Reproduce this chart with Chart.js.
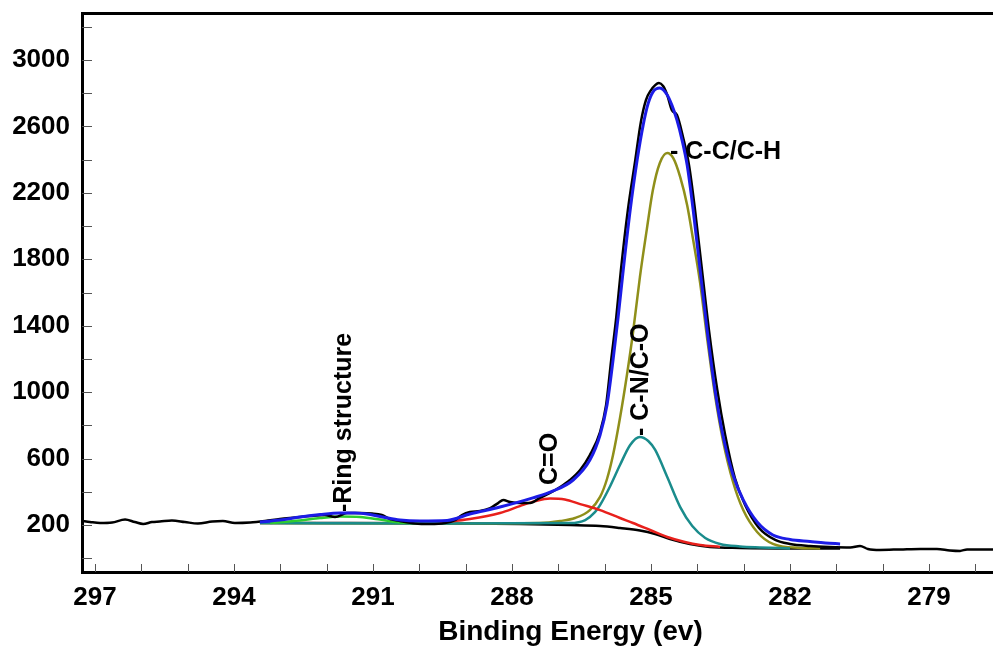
<!DOCTYPE html>
<html>
<head>
<meta charset="utf-8">
<script src="https://cdn.jsdelivr.net/npm/chart.js@4.4.1/dist/chart.umd.min.js"></script>
<style>
  html, body { margin: 0; padding: 0; background: #ffffff; }
  #wrap { width: 993px; height: 650px; position: relative; }
</style>
</head>
<body>
<div id="wrap"><canvas id="c"></canvas></div>
<script>
// ---- Data ----
// Raw spectrum (black, noisy)
const rawEnergy = [297.28,297.11,296.89,296.63,296.35,296.14,295.96,295.77,295.60,295.34,295.06,294.78,294.47,294.24,293.98,293.65,293.33,293.01,292.68,292.36,292.04,291.82,291.56,291.28,291.02,290.81,290.63,290.42,290.09,289.77,289.45,289.23,289.08,288.91,288.69,288.47,288.30,288.19,288.04,287.83,287.61,287.40,287.18,286.96,286.75,286.53,286.32,286.10,285.97,285.86,285.75,285.65,285.50,285.34,285.22,285.11,285.00,284.91,284.83,284.74,284.65,284.55,284.44,284.31,284.18,284.05,283.90,283.75,283.57,283.40,283.19,282.97,282.67,282.32,282.00,281.57,281.14,280.70,280.49,280.32,280.06,279.62,279.19,278.83,278.55,278.33,278.18,277.62];
const rawCounts = [224,218,212,215,233,218,206,218,221,227,218,209,221,224,212,215,224,236,245,254,260,248,272,272,269,260,236,224,209,206,212,230,260,278,284,302,332,351,338,332,332,363,393,429,471,531,621,760,922,1193,1452,1735,2096,2397,2626,2759,2819,2849,2861,2843,2789,2698,2668,2536,2367,2096,1735,1374,1013,742,483,320,182,110,86,74,68,65,74,56,50,53,56,56,47,44,53,53];

// Fitted envelope (blue)
const envEnergy = [293.44,293.01,292.58,292.14,291.71,291.39,291.06,290.74,290.42,289.99,289.40,288.91,288.26,287.55,287.11,286.68,286.32,286.10,285.95,285.82,285.71,285.60,285.45,285.30,285.17,285.06,284.96,284.81,284.65,284.55,284.44,284.33,284.22,284.09,283.94,283.79,283.62,283.45,283.23,283.01,282.71,282.37,282.00,281.57,281.24,280.92];
const envCounts = [218,230,248,263,272,272,263,245,230,224,227,266,308,363,405,471,591,742,922,1193,1452,1735,2096,2397,2608,2740,2807,2831,2789,2728,2638,2518,2367,2096,1735,1374,1013,742,501,351,218,140,113,101,92,86];

// Background (black smooth)
const bgEnergy = [293.44,291.50,289.34,287.83,286.75,286.10,285.67,285.24,284.91,284.59,284.16,283.73,283.08,282.00,280.92];
const bgCounts = [212,212,209,206,200,194,182,167,146,116,86,68,62,59,59];

// C-C/C-H component (olive)
const ccEnergy = [293.44,289.34,287.40,286.96,286.64,286.32,286.10,285.95,285.82,285.67,285.52,285.39,285.24,285.09,284.96,284.81,284.65,284.52,284.37,284.22,284.09,283.94,283.79,283.62,283.45,283.23,283.01,282.71,282.37,281.78,281.35];
const ccCounts = [212,209,212,224,242,290,369,477,621,844,1103,1356,1693,1982,2217,2380,2440,2409,2295,2126,1916,1657,1326,983,712,459,290,158,86,62,59];

// C-N/C-O component (teal)
const cnEnergy = [293.44,289.34,286.75,286.42,286.21,286.10,285.88,285.67,285.45,285.24,285.06,284.91,284.65,284.37,284.11,283.83,283.51,283.08,282.65,282.00];
const cnCounts = [212,209,212,230,278,320,435,561,682,730,706,652,489,308,194,122,86,71,65,59];

// C=O component (red)
const coEnergy = [289.55,288.91,288.26,287.83,287.50,287.18,286.86,286.53,286.10,285.67,285.39,285.02,284.65,284.27,283.94,283.51];
const coCounts = [215,236,272,314,344,360,354,326,290,242,212,170,128,98,80,68];

// Ring structure component (green)
const ringEnergy = [293.22,292.58,292.14,291.71,291.28,290.85,290.42,289.99];
const ringCounts = [212,227,242,251,248,233,215,212];

// Tick labels
const xTickLabels = [297,294,291,288,285,282,279];
const yTickLabels = [200,600,1000,1400,1800,2200,2600,3000];
const xTitle = 'Binding Energy (ev)';

// Peak annotations [text, energy, counts, rotation]
const peakLabels = [
  ['-Ring structure', 291.63, 278, -90],
  ['C=O', 287.18, 441, -90],
  ['- C-N/C-O', 285.22, 736, -90],
  ['- C-C/C-H', 284.59, 2445, 0]
];

// ---- Chart ----
const toXY = (xs, ys) => xs.map((x, i) => ({x: x, y: ys[i]}));
const FONT = '"Liberation Sans", Arial, sans-serif';
const X_MIN = 277.62, X_MAX = 297.28, Y_MIN = -83, Y_MAX = 3283;

const innerTicks = {
  id: 'innerTicks',
  afterDatasetsDraw(chart) {
    const ctx = chart.ctx, xs = chart.scales.x, ys = chart.scales.y, a = chart.chartArea;
    ctx.save();
    ctx.strokeStyle = '#555';
    ctx.lineWidth = 1;
    ys.ticks.forEach(t => {
      const p = Math.round(ys.getPixelForValue(t.value)) + 0.5;
      ctx.beginPath(); ctx.moveTo(a.left, p); ctx.lineTo(a.left + 10, p); ctx.stroke();
    });
    xs.ticks.forEach(t => {
      const p = Math.round(xs.getPixelForValue(t.value)) + 0.5;
      ctx.beginPath(); ctx.moveTo(p, a.bottom); ctx.lineTo(p, a.bottom - 8); ctx.stroke();
    });
    ctx.restore();
  }
};

const peakText = {
  id: 'peakText',
  afterDraw(chart) {
    const ctx = chart.ctx, xs = chart.scales.x, ys = chart.scales.y, a = chart.chartArea;
    ctx.save();
    ctx.fillStyle = '#000';
    ctx.font = 'bold 25px ' + FONT;
    ctx.textAlign = 'left';
    ctx.textBaseline = 'middle';
    peakLabels.forEach(([txt, e, v, rot]) => {
      ctx.save();
      ctx.translate(xs.getPixelForValue(e), ys.getPixelForValue(v));
      ctx.rotate(rot * Math.PI / 180);
      ctx.fillText(txt, 0, 0);
      ctx.restore();
    });
    // axis title, placed a little right of the plot centre as in the reference
    ctx.font = 'bold 28px ' + FONT;
    ctx.textAlign = 'center';
    ctx.fillText(xTitle, (a.left + a.right) / 2 + 33, xs.bottom - 18);
    ctx.restore();
  }
};

const lineDs = (data, color, width, order) => ({
  data: data, borderColor: color, borderWidth: width, pointRadius: 0,
  fill: false, order: order, cubicInterpolationMode: 'monotone'
});

new Chart(document.getElementById('c'), {
  type: 'line',
  data: {
    datasets: [
      lineDs(toXY(envEnergy, envCounts), '#1c1ce6', 3, 0),
      lineDs(toXY(rawEnergy, rawCounts), '#000000', 2.5, 1),
      lineDs(toXY(ringEnergy, ringCounts), '#2ecc2e', 2.5, 2),
      lineDs(toXY(coEnergy, coCounts), '#e8201c', 2.5, 3),
      lineDs(toXY(cnEnergy, cnCounts), '#1a8c8c', 2.5, 4),
      lineDs(toXY(ccEnergy, ccCounts), '#8f8f1a', 2.5, 5),
      lineDs(toXY(bgEnergy, bgCounts), '#000000', 2.5, 6)
    ]
  },
  options: {
    responsive: true,
    maintainAspectRatio: false,
    animation: false,
    devicePixelRatio: 1,
    layout: { padding: 0 },
    plugins: { legend: { display: false }, tooltip: { enabled: false } },
    scales: {
      x: {
        type: 'linear', position: 'bottom', reverse: true, min: X_MIN, max: X_MAX,
        afterBuildTicks: s => { const t = []; for (let v = 278; v <= 297; v++) t.push({value: v}); s.ticks = t; },
        afterFit: s => { s.height = 78; s.paddingLeft = 0; s.paddingRight = 0; },
        grid: { display: false, drawTicks: false },
        border: { display: true, color: '#000', width: 3 },
        ticks: {
          autoSkip: false, maxRotation: 0, padding: 10, color: '#000',
          font: { family: FONT, size: 26, weight: 'bold' },
          callback: v => xTickLabels.includes(v) ? String(v) : ''
        }
      },
      xTop: {
        type: 'linear', position: 'top', reverse: true, min: X_MIN, max: X_MAX,
        afterFit: s => { s.height = 13; s.paddingLeft = 0; s.paddingRight = 0; },
        grid: { display: false, drawTicks: false },
        border: { display: true, color: '#000', width: 3 },
        ticks: { display: false }
      },
      y: {
        type: 'linear', position: 'left', min: Y_MIN, max: Y_MAX,
        afterBuildTicks: s => { const t = []; for (let v = 0; v <= 3200; v += 200) t.push({value: v}); s.ticks = t; },
        afterFit: s => { s.width = 82; s.paddingTop = 0; s.paddingBottom = 0; },
        grid: { display: false, drawTicks: false },
        border: { display: true, color: '#000', width: 3 },
        ticks: {
          autoSkip: false, padding: 12, color: '#000',
          font: { family: FONT, size: 26, weight: 'bold' },
          callback: v => yTickLabels.includes(v) ? String(v) : ''
        }
      }
    }
  },
  plugins: [innerTicks, peakText]
});
</script>
</body>
</html>
